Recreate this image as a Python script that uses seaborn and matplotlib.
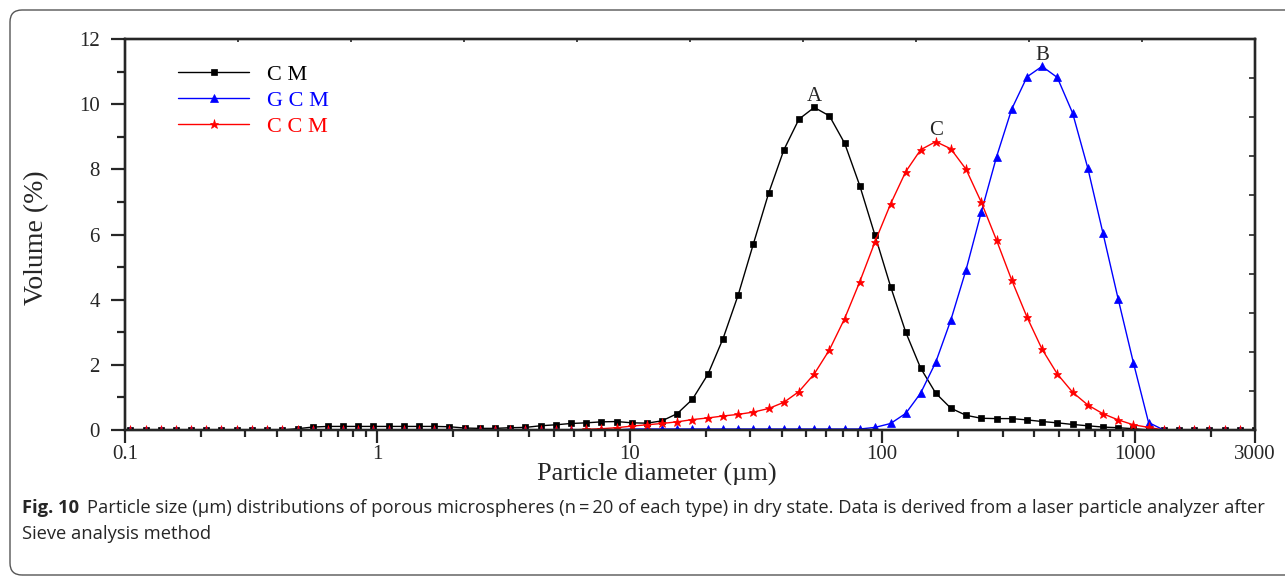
import numpy as np
import pandas as pd
import seaborn as sns
import matplotlib.pyplot as plt
from matplotlib import font_manager
from matplotlib.patches import FancyBboxPatch
from matplotlib.transforms import IdentityTransform
from matplotlib.ticker import LogLocator, MultipleLocator, NullFormatter

# particle diameter grid (um)
diameter = [0.105, 0.121, 0.139, 0.159, 0.183, 0.210, 0.241, 0.277, 0.318, 0.366,
            0.420, 0.483, 0.554, 0.637, 0.731, 0.840, 0.965, 1.11, 1.27, 1.46,
            1.68, 1.93, 2.22, 2.55, 2.93, 3.36, 3.86, 4.43, 5.09, 5.85,
            6.72, 7.72, 8.87, 10.2, 11.7, 13.4, 15.4, 17.7, 20.4, 23.4,
            26.9, 30.9, 35.5, 40.8, 46.8, 53.8, 61.8, 71.0, 81.5, 93.7,
            108, 124, 142, 163, 187, 215, 247, 284, 326, 375,
            430, 494, 568, 652, 749, 861, 989, 1136, 1305, 1499,
            1722, 1978, 2272, 2610, 2998]

cm = [0, 0, 0, 0, 0, 0, 0, 0, 0, 0,
      0, 0.04, 0.09, 0.11, 0.11, 0.11, 0.11, 0.11, 0.11, 0.11,
      0.11, 0.10, 0.06, 0.05, 0.05, 0.07, 0.08, 0.13, 0.16, 0.20,
      0.22, 0.25, 0.26, 0.22, 0.21, 0.28, 0.50, 0.94, 1.71, 2.80,
      4.15, 5.72, 7.27, 8.60, 9.54, 9.90, 9.64, 8.80, 7.50, 5.97,
      4.40, 3.00, 1.90, 1.13, 0.67, 0.45, 0.36, 0.35, 0.35, 0.31,
      0.26, 0.22, 0.17, 0.13, 0.09, 0.07, 0.04, 0, 0, 0,
      0, 0, 0, 0, 0]

gcm = [0, 0, 0, 0, 0, 0, 0, 0, 0, 0,
       0, 0, 0, 0, 0, 0, 0, 0, 0, 0,
       0, 0, 0, 0, 0, 0, 0, 0, 0, 0,
       0, 0, 0, 0.03, 0.03, 0.03, 0.03, 0.03, 0.03, 0.03,
       0.03, 0.03, 0.03, 0.03, 0.03, 0.03, 0.03, 0.03, 0.03, 0.08,
       0.20, 0.51, 1.13, 2.08, 3.37, 4.92, 6.69, 8.39, 9.85, 10.84,
       11.16, 10.82, 9.73, 8.05, 6.05, 4.02, 2.07, 0.23, 0, 0,
       0, 0, 0, 0, 0]

ccm = [0, 0, 0, 0, 0, 0, 0, 0, 0, 0,
       0, 0, 0, 0, 0, 0, 0, 0, 0, 0,
       0, 0, 0, 0, 0, 0, 0, 0, 0, 0,
       0.02, 0.04, 0.07, 0.12, 0.16, 0.20, 0.25, 0.32, 0.37, 0.43,
       0.48, 0.55, 0.66, 0.85, 1.18, 1.72, 2.46, 3.42, 4.55, 5.78,
       6.94, 7.93, 8.60, 8.85, 8.63, 8.00, 6.99, 5.82, 4.60, 3.46,
       2.48, 1.72, 1.16, 0.77, 0.50, 0.31, 0.16, 0.08, 0, 0,
       0, 0, 0, 0, 0]

series_names = ["C M", "G C M", "C C M"]
peak_labels = ["A", "B", "C"]
x_ticks = [0.1, 1, 10, 100, 1000, 3000]
x_tick_labels = ["0.1", "1", "10", "100", "1000", "3000"]
y_ticks = [0, 2, 4, 6, 8, 10, 12]

caption_bold = "Fig. 10"
caption_rest = ("Particle size (\u00b5m) distributions of porous microspheres (n\u2009=\u200920 of each type) "
                "in dry state. Data is derived from a laser particle analyzer after")
caption_line2 = "Sieve analysis method"

sns.set_style("ticks")
plt.rcParams['font.family'] = ['Liberation Serif', 'DejaVu Serif']

installed = {f.name for f in font_manager.fontManager.ttflist}
cap_font = 'Liberation Sans Narrow' if 'Liberation Sans Narrow' in installed else 'Open Sans'

fig = plt.figure(figsize=(12.85, 5.82), dpi=100)
ax = fig.add_axes([125 / 1285, 1 - 430 / 582, 1130 / 1285, 391 / 582])
ax.set_xscale('log')

df = pd.DataFrame({"diameter": diameter, "C M": cm, "G C M": gcm, "C C M": ccm})
styles = {"C M": ("black", "s", 4.3), "G C M": ("blue", "^", 5.5), "C C M": ("red", "*", 6.5)}
for name in series_names:
    col, mk, ms = styles[name]
    sns.lineplot(data=df, x="diameter", y=name, ax=ax, color=col, marker=mk,
                 markersize=ms, markeredgecolor=col, markeredgewidth=0.5,
                 linewidth=1, label=name, sort=False)

ax.set_xlim(0.1, 3000)
ax.set_ylim(0, 12)

ax.set_xticks(x_ticks, x_tick_labels)
ax.xaxis.set_minor_locator(LogLocator(base=10, subs=np.arange(2, 10)))
ax.xaxis.set_minor_formatter(NullFormatter())
ax.set_yticks(y_ticks)
ax.yaxis.set_minor_locator(MultipleLocator(1))

ax.tick_params(axis='y', which='major', direction='out', length=10, width=1.6, labelsize=15, pad=8)
ax.tick_params(axis='y', which='minor', direction='out', length=6, width=1.6)
ax.tick_params(axis='x', which='major', direction='out', length=9, width=1.6, labelsize=15, pad=2)
ax.tick_params(axis='x', which='minor', direction='out', length=5, width=1.6)
for s in ax.spines.values():
    s.set_visible(True)
    s.set_linewidth(1.6)
    s.set_color('black')

# tiny inward ticks on the right and top frame
axr = ax.twinx()
axr.set_ylim(0, 10)
axr.set_yticks(range(11))
axr.tick_params(axis='y', direction='in', length=4, width=1.2, labelright=False)
axt = ax.twiny()
axt.set_xlim(0, 10)
axt.set_xticks(range(11))
axt.tick_params(axis='x', direction='in', length=2, width=1.2, labeltop=False)
for a in (axr, axt):
    for s in a.spines.values():
        s.set_linewidth(1.6)

ax.set_xlabel("Particle diameter (\u00b5m)", fontsize=19)
ax.xaxis.set_label_coords((657 - 125) / 1130, (430 - 474) / 391)
ax.xaxis.label.set_va('center')
ax.set_ylabel("Volume (%)", fontsize=20)
ax.yaxis.set_label_coords((37 - 125) / 1130, (430 - 238) / 391)
ax.yaxis.label.set_va('center')

leg = ax.legend(loc='upper left', bbox_to_anchor=(0.047, 0.935), frameon=False,
                fontsize=16, handlelength=3.2, handletextpad=0.8, labelspacing=0.25,
                borderaxespad=0, borderpad=0, labelcolor='linecolor')

for lab, vals in zip(peak_labels, [cm, gcm, ccm]):
    i = int(np.argmax(vals))
    ax.annotate(lab, (diameter[i], vals[i]), xytext=(0, 1), textcoords='offset points',
                ha='center', va='bottom', fontsize=15)

# caption
cap_size = 13.2
t1 = fig.text(22 / 1285, 1 - 508 / 582, caption_bold, fontsize=cap_size, fontweight='bold',
              family=cap_font, va='center', ha='left')
fig.canvas.draw()
bb = t1.get_window_extent()
fig.text((bb.x1 + 8) / 1285, 1 - 508 / 582, caption_rest, fontsize=cap_size,
         family=cap_font, va='center', ha='left')
fig.text(22 / 1285, 1 - 534 / 582, caption_line2, fontsize=cap_size,
         family=cap_font, va='center', ha='left')

frame = FancyBboxPatch((10, 7), 1300, 565, boxstyle="round,pad=0,rounding_size=12",
                       transform=IdentityTransform(), facecolor='none',
                       edgecolor='#555555', linewidth=1)
fig.add_artist(frame)

fig.savefig("out.png", dpi=100)
